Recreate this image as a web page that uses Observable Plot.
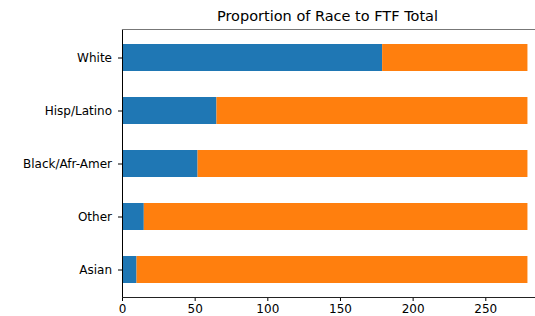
<!DOCTYPE html>
<html>
<head>
<meta charset="utf-8">
<script src="https://cdn.jsdelivr.net/npm/d3@7"></script>
<script src="https://cdn.jsdelivr.net/npm/@observablehq/plot@0.6"></script>
<style>
  html, body { margin: 0; padding: 0; background: #fff; }
  #wrap { position: relative; width: 535px; height: 316px; overflow: hidden; font-family: "DejaVu Sans", sans-serif; }
  #title { position: absolute; left: 0; top: 9.4px; width: 655px; text-align: center; font-size: 14.5px; line-height: 14.5px; color: #000; white-space: nowrap; }
  svg { display: block; }
</style>
</head>
<body>
<div id="wrap"><div id="title">Proportion of Race to FTF Total</div></div>
<script>
const races = ["White", "Hisp/Latino", "Black/Afr-Amer", "Other", "Asian"];
const ftfRace = [179, 65, 52, 15, 10];
const remainder = [100, 214, 227, 264, 269];
const xTicks = [0, 50, 100, 150, 200, 250];
const seriesNames = ["race", "rest"];
const colors = ["#1f77b4", "#ff7f0e"];

const rows = [];
races.forEach((r, i) => {
  rows.push({race: r, series: seriesNames[0], value: ftfRace[i]});
  rows.push({race: r, series: seriesNames[1], value: remainder[i]});
});

const chart = Plot.plot({
  width: 535,
  height: 316,
  marginLeft: 122,
  marginRight: 0,
  marginTop: 29,
  marginBottom: 19,
  style: {fontFamily: "DejaVu Sans, sans-serif", fontSize: "12px", color: "#000", background: "#fff"},
  x: {domain: [0, 284.2], ticks: xTicks, tickSize: 4, tickPadding: 3.2, label: null, line: false},
  y: {domain: races, paddingInner: 0.5, paddingOuter: 0.25, align: 0.5, tickSize: 4, tickPadding: 6.5, label: null},
  color: {domain: seriesNames, range: colors},
  marks: [
    Plot.barX(rows, Plot.stackX({y: "race", x: "value", fill: "series", order: seriesNames})),
    Plot.ruleX([0], {stroke: "#000", strokeWidth: 1}),
    Plot.frame({anchor: "top", stroke: "#777", strokeWidth: 1.2}),
    Plot.frame({anchor: "bottom", stroke: "#222", strokeWidth: 1})
  ]
});
document.getElementById("wrap").appendChild(chart);
</script>
</body>
</html>
